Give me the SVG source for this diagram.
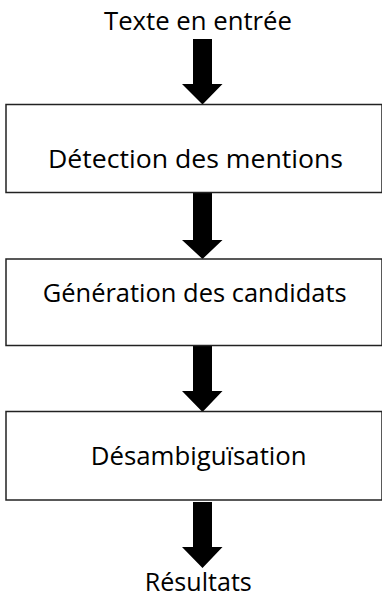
<svg xmlns="http://www.w3.org/2000/svg" width="382" height="598" viewBox="0 0 382 598">
<style>
.box{fill:#fff;stroke:#222;stroke-width:1.5}
.t{font-family:"Open Sans","Noto Sans",sans-serif;font-size:25px;fill:#000;text-anchor:middle}
.arr{fill:#000}
</style>
<rect width="382" height="598" fill="#fff"/>
<g id="connectors">
<path class="arr" d="M193,39 H212 V84 H222.5 L202.5,104.5 L182,84 H193 Z"/>
<path class="arr" d="M193,193 H212 V240 H222.5 L202.5,259 L182,240 H193 Z"/>
<path class="arr" d="M193,346 H212 V391 H222.5 L202.5,412 L182,391 H193 Z"/>
<path class="arr" d="M193,502 H212 V547 H222.5 L202.5,568 L182,547 H193 Z"/>
</g>
<g id="input"><text class="t" x="198" y="30" textLength="188" lengthAdjust="spacingAndGlyphs">Texte en entrée</text></g>
<g id="detection"><rect class="box" x="6" y="104.5" width="376" height="88"/><text class="t" x="195.5" y="168" textLength="295" lengthAdjust="spacingAndGlyphs">Détection des mentions</text></g>
<g id="generation"><rect class="box" x="6" y="259" width="376" height="86.5"/><text class="t" x="194.7" y="302" textLength="304" lengthAdjust="spacingAndGlyphs">Génération des candidats</text></g>
<g id="desambiguisation"><rect class="box" x="6" y="411.5" width="376" height="88.5"/><text class="t" x="198.7" y="465" textLength="216" lengthAdjust="spacingAndGlyphs">Désambiguïsation</text></g>
<g id="resultats"><text class="t" x="198.3" y="591" textLength="107" lengthAdjust="spacingAndGlyphs">Résultats</text></g>
</svg>
